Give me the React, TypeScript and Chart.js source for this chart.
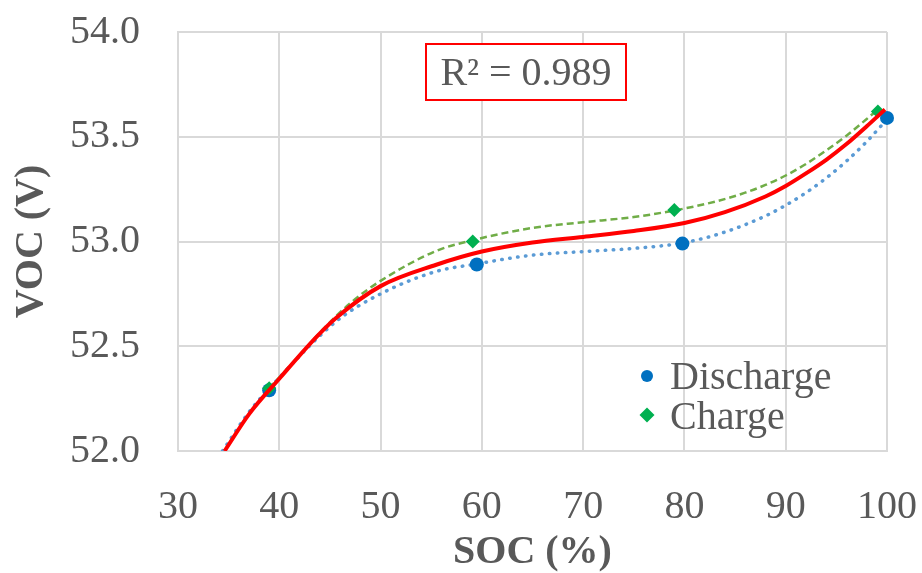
import React, { useEffect, useRef } from "react";
import { Chart, registerables } from "chart.js";

Chart.register(...registerables);

// ---- Data ----
const dischargeSOC = [39.0, 59.5, 79.8, 100.0];
const dischargeVOC = [52.29, 52.89, 52.99, 53.59];

const chargeSOC = [39.0, 59.1, 79.0, 99.1];
const chargeVOC = [52.3, 53.0, 53.15, 53.62];

// Overall fit (red solid)
const fitSOC = [34.6, 37, 40, 43.7, 45.6, 50, 55.5, 60, 65, 70, 75, 80, 84, 88, 90, 92, 94, 96, 98, 99.8];
const fitVOC = [52.0, 52.175, 52.345, 52.546, 52.635, 52.787, 52.889, 52.952, 52.995, 53.022, 53.05, 53.088, 53.14, 53.215, 53.265, 53.325, 53.39, 53.465, 53.55, 53.63];

// Discharge trend (blue dotted)
const dischargeTrendSOC = [34.4, 37, 40, 45.6, 50, 55.5, 59.5, 65, 70, 75, 80, 84, 88, 90, 92, 94, 96, 98, 100];
const dischargeTrendVOC = [52.0, 52.185, 52.35, 52.618, 52.75, 52.857, 52.893, 52.935, 52.952, 52.967, 52.995, 53.045, 53.122, 53.173, 53.233, 53.303, 53.384, 53.477, 53.583];

// Charge trend (green dashed)
const chargeTrendSOC = [39, 41.5, 44.3, 47, 50, 55.5, 59, 65, 70, 75, 79, 83, 86, 88, 90, 92, 94, 96, 98, 99.1];
const chargeTrendVOC = [52.3, 52.43, 52.58, 52.705, 52.812, 52.955, 53.005, 53.065, 53.092, 53.117, 53.148, 53.19, 53.233, 53.27, 53.315, 53.37, 53.435, 53.505, 53.585, 53.63];

const legendLabels = ["Discharge", "Charge"];
const rSquaredText = "R\u00B2 = 0.989";
const xTitle = "SOC (%)";
const yTitle = "VOC (V)";

const FONT = "'Liberation Serif', 'Times New Roman', serif";
const TEXT = "#595959";
const GRID = "#D9D9D9";
const BLUE = "#0070C0";
const GREEN = "#00B050";

const toXY = (xs: number[], ys: number[]) => xs.map((x, i) => ({ x, y: ys[i] }));

const overlayPlugin = {
  id: "overlay",
  afterDraw(chart: any) {
    const ctx = chart.ctx as CanvasRenderingContext2D;
    ctx.save();
    // R² box
    ctx.fillStyle = "#FFFFFF";
    ctx.fillRect(426, 44, 200, 56);
    ctx.strokeStyle = "#FF0000";
    ctx.lineWidth = 2;
    ctx.strokeRect(426, 44, 200, 56);
    ctx.fillStyle = TEXT;
    ctx.font = `40px ${FONT}`;
    ctx.textAlign = "center";
    ctx.textBaseline = "alphabetic";
    ctx.fillText(rSquaredText, 526, 85);

    // Legend
    ctx.textAlign = "left";
    ctx.fillStyle = BLUE;
    ctx.beginPath();
    ctx.arc(647, 376, 6, 0, Math.PI * 2);
    ctx.fill();
    ctx.fillStyle = GREEN;
    ctx.beginPath();
    ctx.moveTo(647, 407.5);
    ctx.lineTo(654.5, 415);
    ctx.lineTo(647, 422.5);
    ctx.lineTo(639.5, 415);
    ctx.closePath();
    ctx.fill();
    ctx.fillStyle = TEXT;
    ctx.fillText(legendLabels[0], 670, 389);
    ctx.fillText(legendLabels[1], 670, 429);
    ctx.restore();
  },
};

export default function App() {
  const ref = useRef<HTMLCanvasElement | null>(null);

  useEffect(() => {
    if (!ref.current) return;
    Chart.defaults.font.family = FONT;
    const chart = new Chart(ref.current, {
      type: "scatter",
      data: {
        datasets: [
          {
            label: "Poly. (All)",
            data: toXY(fitSOC, fitVOC),
            showLine: true,
            borderColor: "#FF0000",
            borderWidth: 4,
            pointRadius: 0,
            cubicInterpolationMode: "monotone",
            fill: false,
          },
          {
            label: legendLabels[1],
            data: toXY(chargeSOC, chargeVOC),
            pointStyle: "rectRot",
            pointRadius: 7,
            backgroundColor: GREEN,
            borderColor: GREEN,
            borderWidth: 0,
            clip: false,
          },
          {
            label: legendLabels[0],
            data: toXY(dischargeSOC, dischargeVOC),
            pointStyle: "circle",
            pointRadius: 7,
            backgroundColor: BLUE,
            borderColor: BLUE,
            borderWidth: 0,
            clip: false,
          },
          {
            label: "Poly. (Discharge)",
            data: toXY(dischargeTrendSOC, dischargeTrendVOC),
            showLine: true,
            borderColor: "#5B9BD5",
            borderWidth: 3.5,
            borderDash: [0.5, 7.5],
            borderCapStyle: "round",
            pointRadius: 0,
            cubicInterpolationMode: "monotone",
            fill: false,
          },
          {
            label: "Poly. (Charge)",
            data: toXY(chargeTrendSOC, chargeTrendVOC),
            showLine: true,
            borderColor: "#70AD47",
            borderWidth: 2.5,
            borderDash: [7, 4],
            pointRadius: 0,
            cubicInterpolationMode: "monotone",
            fill: false,
          },
        ],
      },
      options: {
        animation: false,
        responsive: false,
        events: [],
        layout: { padding: { top: 32, right: 35, bottom: 0, left: 0 } },
        plugins: {
          legend: { display: false },
          tooltip: { enabled: false },
        },
        scales: {
          x: {
            type: "linear",
            min: 30,
            max: 100,
            ticks: {
              stepSize: 10,
              color: TEXT,
              font: { size: 40, family: FONT },
              padding: 32,
              maxRotation: 0,
            },
            grid: { color: GRID, lineWidth: 2, drawTicks: false },
            border: { display: true, color: GRID, width: 2 },
            title: {
              display: true,
              text: xTitle,
              color: TEXT,
              font: { size: 40, weight: "bold", family: FONT, lineHeight: 1 },
              padding: { top: 0, bottom: 0 },
            },
            afterFit(scale: any) {
              scale.height = 122;
              scale.paddingLeft = 0;
              scale.paddingRight = 0;
            },
          },
          y: {
            type: "linear",
            min: 52,
            max: 54,
            ticks: {
              stepSize: 0.5,
              color: TEXT,
              font: { size: 40, family: FONT },
              padding: 38,
              callback: (v: any) => Number(v).toFixed(1),
            },
            grid: { color: GRID, lineWidth: 2, drawTicks: false },
            border: { display: true, color: GRID, width: 2 },
            title: {
              display: true,
              text: yTitle,
              color: TEXT,
              font: { size: 40, weight: "bold", family: FONT, lineHeight: 1 },
              padding: { top: 12, bottom: 0 },
            },
            afterFit(scale: any) {
              scale.width = 178;
              scale.paddingTop = 0;
              scale.paddingBottom = 0;
            },
          },
        },
      },
      plugins: [overlayPlugin],
    } as any);
    return () => chart.destroy();
  }, []);

  return (
    <div style={{ position: "fixed", left: 0, top: 0, width: 922, height: 573, background: "#FFFFFF" }}>
      <canvas ref={ref} width={922} height={573} style={{ width: 922, height: 573 }} />
    </div>
  );
}
